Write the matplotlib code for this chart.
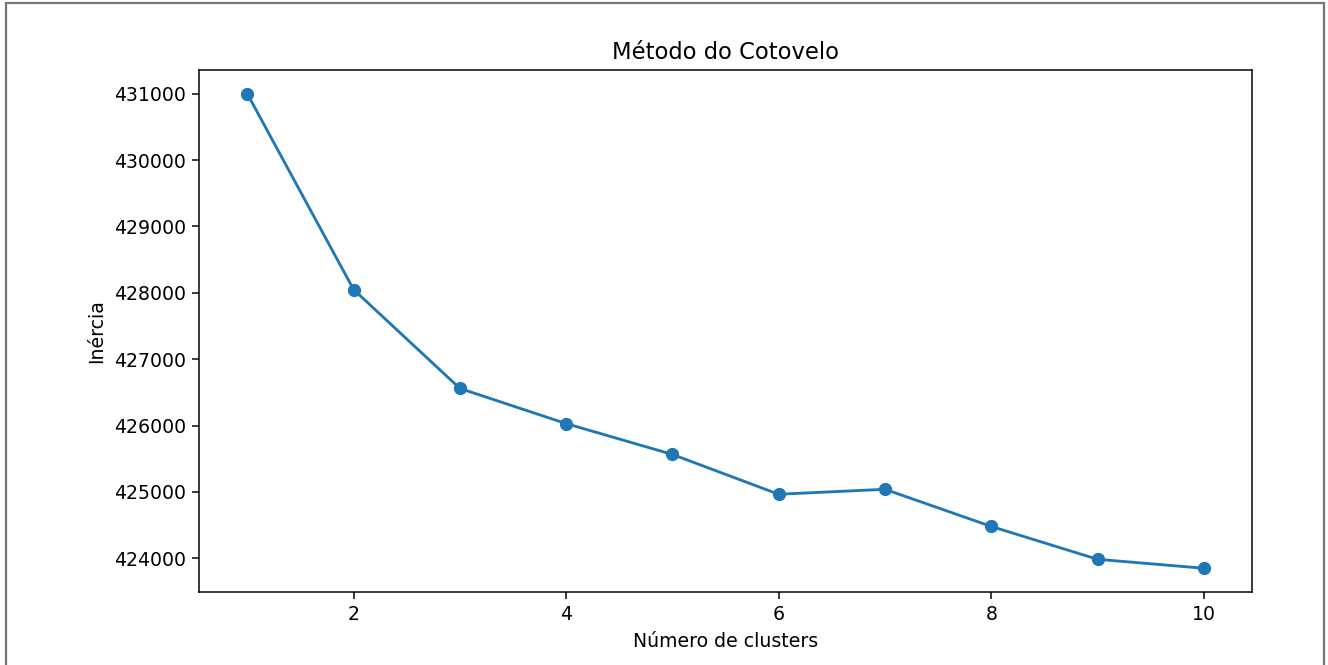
import matplotlib
matplotlib.use("Agg")
import matplotlib.pyplot as plt
from matplotlib.patches import Rectangle

n_clusters = [1, 2, 3, 4, 5, 6, 7, 8, 9, 10]
inercia = [431000, 428050, 426560, 426030, 425565, 424965, 425040, 424480, 423985, 423850]

DPI = 136
fig = plt.figure(figsize=(1328 / DPI, 665 / DPI), dpi=DPI)
ax = fig.add_axes([0.1502, 0.1098, 0.7923, 0.7849])
ax.plot(n_clusters, inercia, marker='o')
ax.set_title("Método do Cotovelo")
ax.set_xlabel("Número de clusters")
ax.set_ylabel("Inércia")

# screenshot frame
fig.patches.append(Rectangle((6 / 1328, -0.01), 1318 / 1328, 1.0 - 3 / 665 + 0.01,
                             transform=fig.transFigure, fill=False,
                             edgecolor='#787878', linewidth=1.2))

fig.savefig("out.png", dpi=DPI)
